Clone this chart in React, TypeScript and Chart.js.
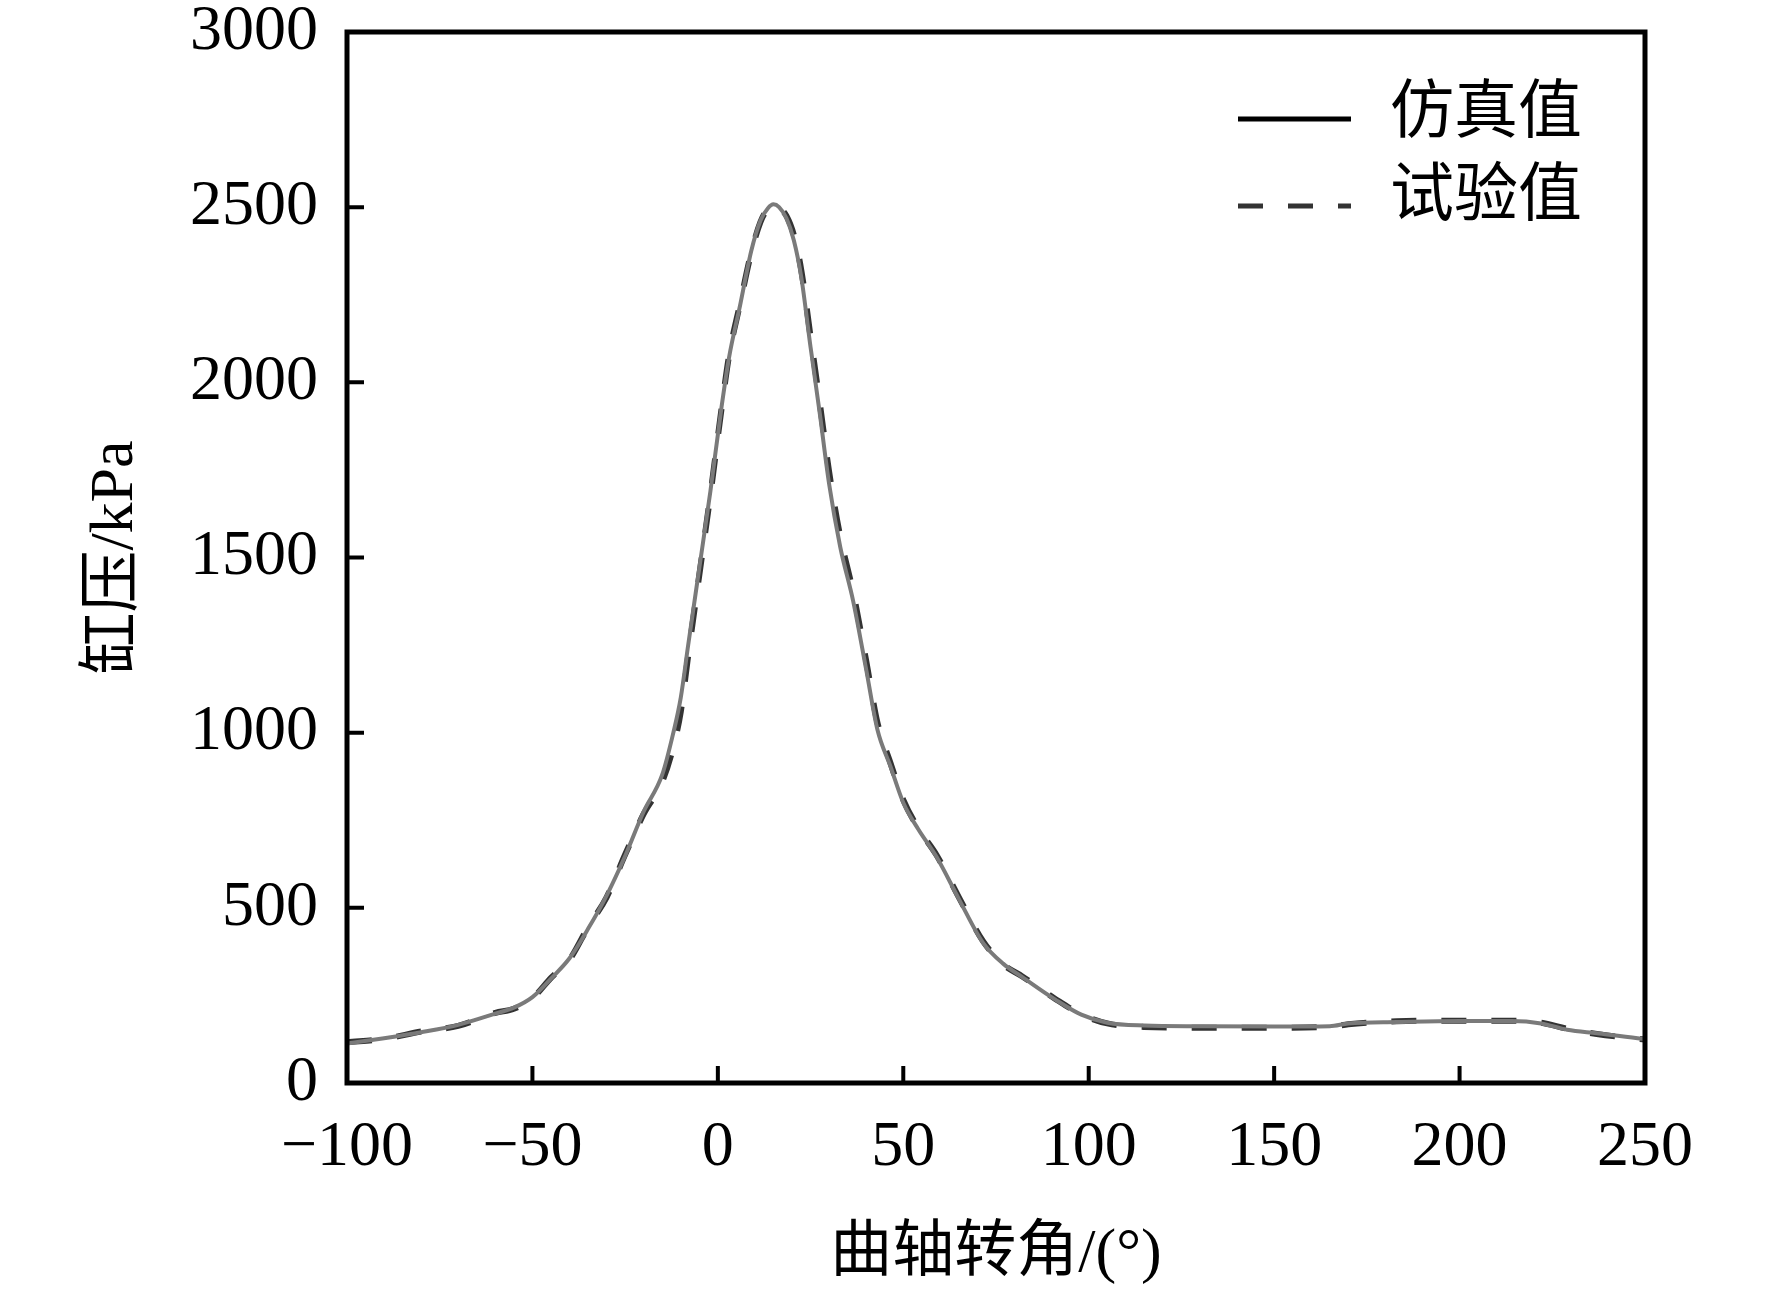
import { useEffect, useRef } from 'react';
import { Chart, registerables } from 'chart.js';

Chart.register(...registerables);

// crank angle (deg) shared by both curves
const crankAngle = [
  -100, -90, -80, -70, -60, -55, -50, -45, -40, -35,
  -30, -25, -20, -15, -12, -10, -8, -5, -2, 1,
  3, 6, 9, 11.5, 13.5, 15, 16.5, 18.5, 20.5, 22.5,
  25, 27.5, 30, 33, 36.5, 40, 43, 46.5, 50, 54,
  59, 65, 71.5, 77, 82, 91, 98, 105, 115, 130,
  150, 165, 170, 183, 200, 214, 222, 229, 237, 248,
  250,
];

// 仿真值 (kPa)
const simulated = [
  113, 128, 145, 166, 198, 215, 245, 298, 356, 440,
  535, 648, 775, 880, 1000, 1100, 1250, 1470, 1690, 1930,
  2070, 2220, 2375, 2462, 2497, 2508, 2500, 2468, 2405, 2300,
  2100, 1910, 1710, 1530, 1375, 1180, 1010, 905, 800, 725,
  645, 525, 400, 340, 303, 238, 195, 172, 164, 162,
  161, 162, 170, 174, 177, 177, 170, 152, 142, 128,
  125,
];

// 试验值 (kPa)
const measured = [
  116, 126, 147, 163, 200, 212, 242, 300, 352, 445,
  530, 652, 768, 860, 960, 1060, 1220, 1450, 1680, 1925,
  2075, 2225, 2370, 2458, 2495, 2503, 2498, 2475, 2420, 2320,
  2130, 1940, 1745, 1560, 1400, 1205, 1030, 915, 808, 728,
  650, 530, 405, 338, 305, 240, 196, 170, 160, 158,
  158, 160, 168, 176, 178, 178, 172, 155, 140, 126,
  124,
];

const seriesNames = ['仿真值', '试验值'];
const xTitle = '曲轴转角/(°)';
const yTitle = '缸压/kPa';

const FONT = "'Liberation Serif', 'Times New Roman', 'Noto Sans CJK SC', serif";

const fmt = (v: number) => (v < 0 ? '\u2212' + Math.abs(v) : String(v));

// box around the plot plus inward ticks on bottom and left
const framePlugin = {
  id: 'frame',
  afterDatasetsDraw(chart: any) {
    const { ctx, chartArea: a, scales } = chart;
    ctx.save();
    ctx.strokeStyle = '#000';
    ctx.lineWidth = 5;
    ctx.strokeRect(a.left, a.top, a.right - a.left, a.bottom - a.top);
    ctx.lineWidth = 4;
    ctx.beginPath();
    scales.x.ticks.forEach((t: any) => {
      if (t.value <= scales.x.min || t.value >= scales.x.max) return;
      const px = scales.x.getPixelForValue(t.value);
      ctx.moveTo(px, a.bottom);
      ctx.lineTo(px, a.bottom - 17);
    });
    scales.y.ticks.forEach((t: any) => {
      if (t.value <= scales.y.min || t.value >= scales.y.max) return;
      const py = scales.y.getPixelForValue(t.value);
      ctx.moveTo(a.left, py);
      ctx.lineTo(a.left + 17, py);
    });
    ctx.stroke();
    ctx.restore();
  },
};

const legendPlugin = {
  id: 'cornerLegend',
  afterDraw(chart: any) {
    const { ctx, chartArea: a } = chart;
    const x0 = a.right - 407;
    const x1 = a.right - 294;
    const rows = [a.top + 87, a.top + 174];
    ctx.save();
    ctx.lineCap = 'butt';
    ctx.lineWidth = 5;
    ctx.strokeStyle = '#000';
    ctx.beginPath();
    ctx.moveTo(x0, rows[0]);
    ctx.lineTo(x1, rows[0]);
    ctx.stroke();
    ctx.strokeStyle = '#333';
    ctx.setLineDash([25, 25]);
    ctx.beginPath();
    ctx.moveTo(x0, rows[1]);
    ctx.lineTo(x1, rows[1]);
    ctx.stroke();
    ctx.setLineDash([]);
    ctx.fillStyle = '#000';
    ctx.font = `64px ${FONT}`;
    ctx.textAlign = 'left';
    ctx.textBaseline = 'middle';
    ctx.fillText(seriesNames[0], a.right - 255, rows[0] - 4);
    ctx.fillText(seriesNames[1], a.right - 255, rows[1] - 8);
    ctx.restore();
  },
};

export default function App() {
  const canvasRef = useRef<HTMLCanvasElement>(null);
  const chartRef = useRef<Chart | null>(null);

  useEffect(() => {
    if (!canvasRef.current) return;
    const ctx = canvasRef.current.getContext('2d');
    if (!ctx) return;

    chartRef.current = new Chart(ctx, {
      type: 'line',
      data: {
        datasets: [
          {
            label: seriesNames[0],
            data: crankAngle.map((x, i) => ({ x, y: simulated[i] })),
            borderColor: '#7a7a7a',
            borderWidth: 4,
            pointRadius: 0,
            cubicInterpolationMode: 'monotone',
            fill: false,
          },
          {
            label: seriesNames[1],
            data: crankAngle.map((x, i) => ({ x, y: measured[i] })),
            borderColor: '#333333',
            borderWidth: 6,
            borderDash: [25, 25],
            pointRadius: 0,
            cubicInterpolationMode: 'monotone',
            fill: false,
          },
        ],
      },
      options: {
        animation: false,
        responsive: true,
        maintainAspectRatio: false,
        layout: { padding: { left: 0, top: 32, right: 127, bottom: 0 } },
        plugins: {
          legend: { display: false },
          tooltip: { enabled: false },
        },
        scales: {
          x: {
            type: 'linear',
            min: -100,
            max: 250,
            grid: { display: false, drawTicks: false },
            border: { display: false },
            ticks: {
              stepSize: 50,
              padding: 33,
              color: '#000',
              maxRotation: 0,
              autoSkip: false,
              font: { family: FONT, size: 64, lineHeight: 1 },
              callback: (v: any) => fmt(Number(v)),
            },
            title: {
              display: true,
              text: xTitle,
              color: '#000',
              font: { family: FONT, size: 62, lineHeight: 1 },
              padding: { top: 0, bottom: 3 },
            },
            afterFit: (s: any) => {
              s.height = 206;
              s.paddingLeft = 0;
              s.paddingRight = 0;
            },
          },
          y: {
            min: 0,
            max: 3000,
            grid: { display: false, drawTicks: false },
            border: { display: false },
            ticks: {
              stepSize: 500,
              padding: 29,
              color: '#000',
              font: { family: FONT, size: 64, lineHeight: 1 },
              callback: (v: any) => String(v),
            },
            title: {
              display: true,
              text: yTitle,
              color: '#000',
              font: { family: FONT, size: 62, lineHeight: 1 },
              padding: { top: 85, bottom: 0 },
            },
            afterFit: (s: any) => {
              s.width = 347;
              s.paddingTop = 0;
              s.paddingBottom = 0;
            },
          },
        },
      },
      plugins: [framePlugin, legendPlugin],
    });

    return () => {
      chartRef.current?.destroy();
      chartRef.current = null;
    };
  }, []);

  return (
    <div style={{ position: 'fixed', left: 0, top: 0, width: 1772, height: 1289, background: '#fff' }}>
      <canvas ref={canvasRef}></canvas>
    </div>
  );
}
